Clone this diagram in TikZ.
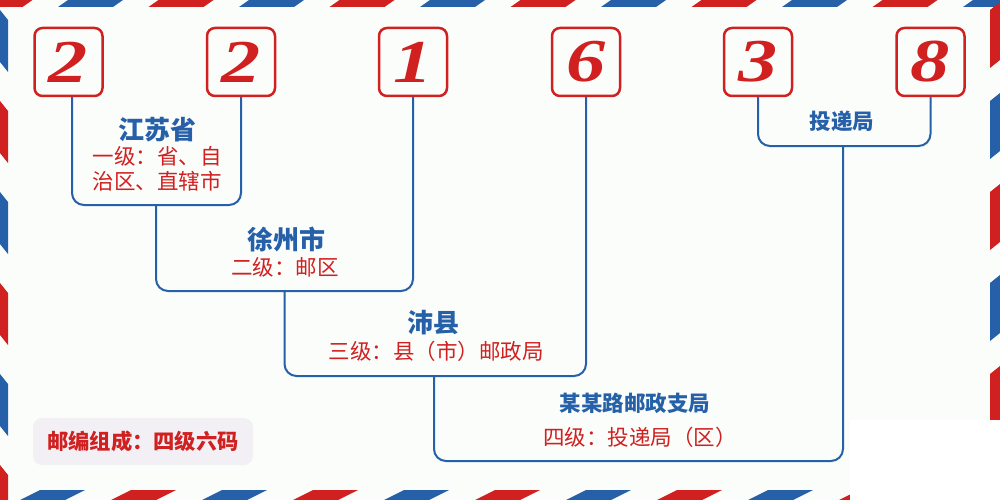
\documentclass[tikz,border=0pt]{standalone}
\usepackage{fontspec}
\setmainfont{Liberation Serif}
\newfontfamily\cjk{Noto Sans CJK SC}
\newfontfamily\digitfont{Liberation Serif}
\definecolor{pblue}{HTML}{2560A8}
\definecolor{pred}{HTML}{D02020}
\definecolor{bgc}{HTML}{FBFDFB}
\definecolor{legbg}{HTML}{F3F0F5}
\newcommand{\dg}[1]{\scalebox{1.35}[1.05]{#1}}
\begin{document}
\begin{tikzpicture}[x=1pt,y=-1pt,
  digitbox/.style={draw=pred, line width=2.5pt, rounded corners=8pt, minimum size=68pt, inner sep=0pt, fill=bgc,
    text=pred, font=\digitfont\bfseries\itshape\fontsize{58}{58}\selectfont},
  brk/.style={draw=pblue, line width=2pt, rounded corners=12pt},
  headtxt/.style={text=pblue, font=\cjk\bfseries\fontsize{26}{28}\selectfont, inner sep=0pt},
  subhead/.style={text=pblue, font=\cjk\bfseries\fontsize{21.5}{24}\selectfont, inner sep=0pt},
  leveltxt/.style={text=pred, font=\cjk\fontsize{21.5}{25}\selectfont, inner sep=0pt, align=center},
  legend/.style={fill=legbg, rounded corners=9pt, minimum width=220pt, minimum height=47pt, inner sep=0pt,
    text=pred, font=\cjk\bfseries\fontsize{21.3}{22}\selectfont}
]
\useasboundingbox (0,0) rectangle (1000,500);
\fill[bgc] (0,0) rectangle (1000,500);
% airmail stripes
\begin{scope}
\clip (0,0) rectangle (1000,500);
\foreach \k in {-1,...,11}{
  \ifodd\k\def\sc{pred}\else\def\sc{pblue}\fi
  \pgfmathsetmacro\s{68+90.5*\k}
  \fill[\sc] (\s,0) -- (\s+55,0) -- (\s+45,7) -- (\s-10,7) -- cycle;
}
\foreach \k in {-1,...,10}{
  \ifodd\k\def\sc{pred}\else\def\sc{pblue}\fi
  \pgfmathsetmacro\s{20+91*\k}
  \fill[\sc] (\s,500) -- (\s+45,500) -- (\s+65,490) -- (\s+20,490) -- cycle;
}
\foreach \k in {0,...,5}{
  \ifodd\k\def\sc{pred}\else\def\sc{pblue}\fi
  \pgfmathsetmacro\s{10+91*\k}
  \fill[\sc] (0,\s) -- (8,\s+10) -- (8,\s+62) -- (0,\s+52) -- cycle;
}
\foreach \k in {0,...,5}{
  \ifodd\k\def\sc{pblue}\else\def\sc{pred}\fi
  \pgfmathsetmacro\s{10+91*\k}
  \fill[\sc] (990,\s) -- (1000,\s-8) -- (1000,\s+50) -- (990,\s+58) -- cycle;
}
\end{scope}
\fill[white] (850,420) rectangle (1000,500);

% digit boxes
\node[digitbox] (d1) at (68.5,62) {\dg{2}};
\node[digitbox] (d2) at (241,62) {\dg{2}};
\node[digitbox] (d3) at (413,62) {\dg{1}};
\node[digitbox] (d4) at (586,62) {\dg{6}};
\node[digitbox] (d5) at (758,62) {\dg{3}};
\node[digitbox] (d6) at (930.5,62) {\dg{8}};

% bracket junctions
\coordinate (b1) at (156,205);
\coordinate (b2) at (284.5,291);
\coordinate (b3) at (434,376);
\coordinate (b5) at (843,146);
\coordinate (b4) at (638,461);

\draw[brk] ([xshift=3.5pt]d1.south) |- (b1) -| (d2.south);
\draw[brk] (b1) |- (b2) -| (d3.south);
\draw[brk] (b2) |- (b3) -| (d4.south);
\draw[brk] (d5.south) |- (b5) -| (d6.south);
\draw[brk] (b3) |- (b4) -| (b5);

% labels
\node[headtxt] (t1a) at (157,130) {江苏省};
\node[leveltxt] (t1b) at (157,169) {一级：省、自\\治区、直辖市};
\node[headtxt] (t2a) at (286,239) {徐州市};
\node[leveltxt] (t2b) at (285,267) {二级：邮区};
\node[headtxt] (t3a) at (433,323) {沛县};
\node[leveltxt] (t3b) at (436,351) {三级：县（市）邮政局};
\node[subhead] (t4a) at (635,403) {某某路邮政支局};
\node[leveltxt] (t4b) at (640,437) {四级：投递局（区）};
\node[subhead] (t5) at (842,121) {投递局};

\node[legend] (leg) at (143,441.5) {邮编组成：四级六码};
\end{tikzpicture}
\end{document}
